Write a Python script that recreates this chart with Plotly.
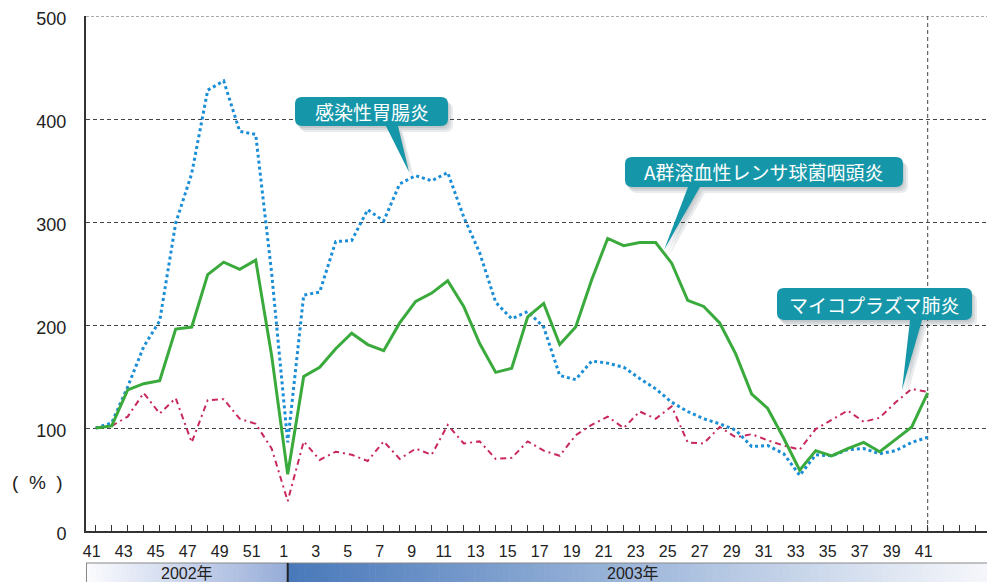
import plotly.graph_objects as go

# ---------------- data ----------------
weeks_2002 = [41, 42, 43, 44, 45, 46, 47, 48, 49, 50, 51, 52]
weeks_2003 = list(range(1, 42))

gastro = [100, 105, 140, 179, 204, 299, 347, 428, 437, 388, 385, 250, 86,
          229, 232, 281, 282, 312, 301, 337, 345, 340, 348, 305, 270, 222,
          206, 213, 198, 151, 147, 165, 163, 159, 148, 138, 125, 116, 109,
          104, 98, 82, 83, 75, 54, 74, 73, 79, 80, 75, 78, 86, 91]
strep = [100, 102, 137, 143, 146, 196, 198, 249, 261, 254, 263, 170, 55,
         150, 159, 177, 192, 181, 175, 202, 223, 231, 243, 218, 182, 154,
         158, 208, 221, 181, 198, 244, 284, 277, 280, 280, 260, 224, 218,
         202, 172, 133, 119, 90, 59, 78, 73, 80, 86, 77, 89, 101, 134]
myco = [100, 102, 111, 134, 114, 129, 86, 127, 128, 109, 104, 80, 29,
        87, 69, 77, 74, 68, 87, 70, 80, 74, 103, 85, 87, 70,
        71, 87, 78, 73, 93, 103, 111, 100, 116, 109, 121, 86, 85,
        101, 91, 94, 88, 83, 79, 99, 108, 117, 106, 110, 125, 138, 135]

name_gastro = "感染性胃腸炎"
name_strep = "A群溶血性レンサ球菌咽頭炎"
name_myco = "マイコプラズマ肺炎"
year_labels = ["2002年", "2003年"]
y_ticks = [0, 100, 200, 300, 400, 500]
unit_label = "(  %  )"

# ---------------- geometry ----------------
W, H = 987, 582
ML, MR, MT, MB = 86, 0, 16, 51
PW, PH = W - ML - MR, H - MT - MB
PX_PER_WEEK = 16.0
FIRST_PX = 95.7
x_start = -(FIRST_PX - ML) / PX_PER_WEEK
x_end = x_start + PW / PX_PER_WEEK

all_weeks = weeks_2002 + weeks_2003
n = len(all_weeks)
xs = list(range(n))
tick_vals = list(range(0, int(x_end) + 1))
tick_text = [str(all_weeks[i]) if (i < n and i % 2 == 0) else "" for i in tick_vals]


def px(xpix):
    return (xpix - ML) / PW


def py(ypix):
    return (H - MB - ypix) / PH


fig = go.Figure()
fig.add_trace(go.Scatter(x=xs, y=myco, mode="lines", name=name_myco,
                         line=dict(color="#c8285c", width=2, dash="6px,4px,2px,4px")))
fig.add_trace(go.Scatter(x=xs, y=gastro, mode="lines", name=name_gastro,
                         line=dict(color="#1a8ed6", width=3, dash="3px,3px")))
fig.add_trace(go.Scatter(x=xs, y=strep, mode="lines", name=name_strep,
                         line=dict(color="#3aaa3c", width=3)))

shapes = []
annotations = []

# vertical dashed line at last week, dashed line at top tick
shapes.append(dict(type="line", xref="x", yref="paper", x0=n - 1, x1=n - 1, y0=0, y1=1,
                   line=dict(color="#444", width=1, dash="4px,3px"), layer="below"))
shapes.append(dict(type="line", xref="paper", yref="y", x0=0, x1=1, y0=y_ticks[-1], y1=y_ticks[-1],
                   line=dict(color="#555", width=1, dash="3px,2px"), layer="below"))


# ---------------- callouts ----------------
def callout(x0, y0, x1, y1, b1, b2, tx, ty, text, r=7):
    def P(a, b):
        return f"{px(a):.5f},{py(b):.5f}"

    def path(dx, dy):
        return (f"M{P(x0 + r + dx, y0 + dy)} L{P(x1 - r + dx, y0 + dy)} "
                f"Q{P(x1 + dx, y0 + dy)} {P(x1 + dx, y0 + r + dy)} "
                f"L{P(x1 + dx, y1 - r + dy)} Q{P(x1 + dx, y1 + dy)} {P(x1 - r + dx, y1 + dy)} "
                f"L{P(b2 + dx, y1 + dy)} L{P(tx + dx, ty + dy)} L{P(b1 + dx, y1 + dy)} "
                f"L{P(x0 + r + dx, y1 + dy)} Q{P(x0 + dx, y1 + dy)} {P(x0 + dx, y1 - r + dy)} "
                f"L{P(x0 + dx, y0 + r + dy)} Q{P(x0 + dx, y0 + dy)} {P(x0 + r + dx, y0 + dy)} Z")

    for dx, dy in [(5, 6), (3, 4), (1, 2)]:
        shapes.append(dict(type="path", xref="paper", yref="paper", path=path(dx, dy),
                           fillcolor="rgba(40,60,70,0.10)", line=dict(width=0)))
    shapes.append(dict(type="path", xref="paper", yref="paper", path=path(0, 0),
                       fillcolor="#1697a9", line=dict(width=0)))
    annotations.append(dict(xref="paper", yref="paper", x=px((x0 + x1) / 2), y=py((y0 + y1) / 2),
                            text=text, showarrow=False, xanchor="center", yanchor="middle",
                            font=dict(family="Noto Sans CJK JP", size=19, color="white")))


callout(295, 97, 448, 126, 386, 398, 409, 172, name_gastro)
callout(625, 157, 903, 187, 688, 700, 664, 250, name_strep)
callout(777, 288, 972, 320, 910, 922, 902, 390, name_myco)

# ---------------- year band ----------------
band_top, band_bot = 563, 582
div_x = FIRST_PX + 12 * PX_PER_WEEK


def lerp(c1, c2, t):
    return tuple(int(round(a + (b - a) * t)) for a, b in zip(c1, c2))


def gradient(xa, xb, c1, c2, steps):
    w = (xb - xa) / steps
    for k in range(steps):
        c = lerp(c1, c2, (k + 0.5) / steps)
        shapes.append(dict(type="rect", xref="paper", yref="paper",
                           x0=px(xa + k * w), x1=px(xa + (k + 1) * w + 0.6),
                           y0=py(band_bot), y1=py(band_top),
                           fillcolor=f"rgb{c}", line=dict(width=0)))


gradient(ML, div_x, (252, 252, 254), (150, 172, 216), 40)
gradient(div_x, W, (72, 120, 186), (246, 247, 251), 120)
shapes.append(dict(type="line", xref="paper", yref="paper", x0=px(ML), x1=px(W),
                   y0=py(band_top), y1=py(band_top), line=dict(color="#888", width=1)))
shapes.append(dict(type="line", xref="paper", yref="paper", x0=px(ML + 0.5), x1=px(ML + 0.5),
                   y0=py(band_top), y1=py(band_bot), line=dict(color="#888", width=1)))
shapes.append(dict(type="line", xref="paper", yref="paper", x0=px(div_x), x1=px(div_x),
                   y0=py(band_top), y1=py(band_bot), line=dict(color="#222", width=2)))

annotations.append(dict(xref="paper", yref="paper", x=px((ML + div_x) / 2), y=py(573),
                        text=year_labels[0], showarrow=False, xanchor="center", yanchor="middle",
                        font=dict(family="Liberation Sans, Noto Sans CJK JP", size=16, color="#222")))
annotations.append(dict(xref="paper", yref="paper", x=px(633), y=py(573),
                        text=year_labels[1], showarrow=False, xanchor="center", yanchor="middle",
                        font=dict(family="Liberation Sans, Noto Sans CJK JP", size=16, color="#222")))
annotations.append(dict(xref="paper", yref="paper", x=px(37), y=py(482),
                        text=unit_label, showarrow=False, xanchor="center", yanchor="middle",
                        font=dict(family="Liberation Sans", size=19, color="#222")))

fig.update_layout(
    width=W, height=H,
    margin=dict(l=ML, r=MR, t=MT, b=MB, pad=0, autoexpand=False),
    paper_bgcolor="white", plot_bgcolor="white",
    showlegend=False,
    shapes=shapes, annotations=annotations,
    xaxis=dict(range=[x_start, x_end], tickmode="array", tickvals=tick_vals, ticktext=tick_text,
               ticks="inside", ticklen=6, tickwidth=1.3, tickcolor="#333",
               showline=True, linecolor="#333", linewidth=2, showgrid=False, zeroline=False,
               tickfont=dict(family="Liberation Sans", size=16, color="#222"),
               ticklabelstandoff=5, ticklabelshift=-4),
    yaxis=dict(range=[0, 500], tickvals=y_ticks, ticks="", showline=True, linecolor="#333",
               linewidth=2, showgrid=True, gridcolor="#444", gridwidth=1, griddash="4px,3px",
               zeroline=False, tickfont=dict(family="Liberation Sans", size=18, color="#222"),
               ticklabelstandoff=14, ticklabelshift=3),
)

fig.write_html("out.html", config={"displayModeBar": False},
               post_script="document.body.style.margin='0';document.body.style.overflow='hidden';")
